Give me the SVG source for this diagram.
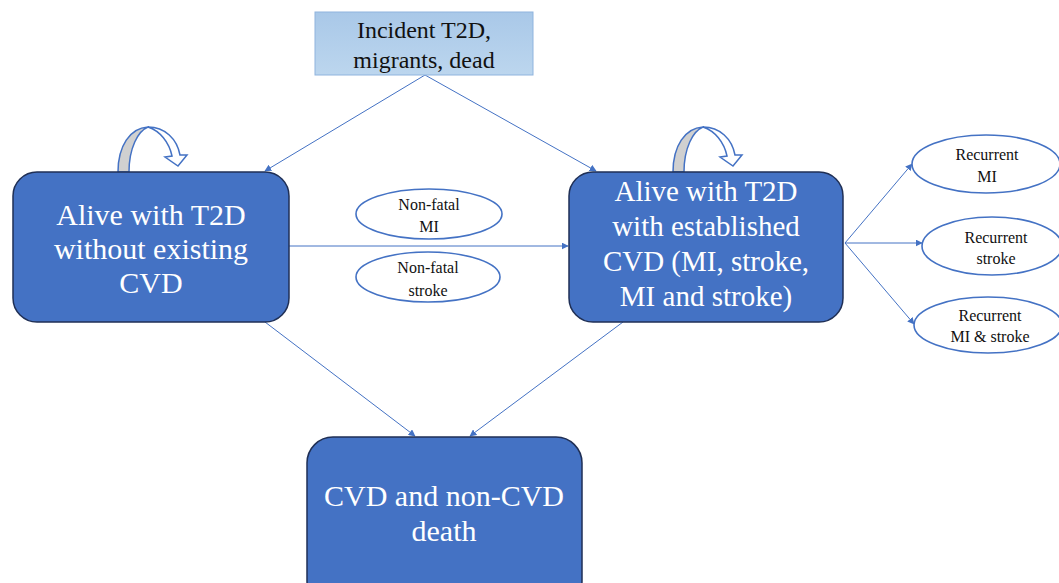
<svg xmlns="http://www.w3.org/2000/svg" width="1059" height="583" viewBox="0 0 1059 583">
<defs>
<linearGradient id="tg" x1="0" y1="0" x2="0" y2="1"><stop offset="0" stop-color="#a9c8e8"/><stop offset="1" stop-color="#bcd6ee"/></linearGradient>
<marker id="ah" viewBox="0 0 10 10" refX="9" refY="5" markerWidth="7" markerHeight="7" orient="auto" markerUnits="userSpaceOnUse"><path d="M0,0 L10,5 L0,10 z" fill="#4472c4"/></marker>
<style>
.box{fill:#4472c4;stroke:#1f2f55;stroke-width:1.5}
.ell{fill:#fff;stroke:#4472c4;stroke-width:1.6}
.con{stroke:#4472c4;stroke-width:1;fill:none;marker-end:url(#ah)}
.loopg{fill:#d0d0d0;stroke:#4472c4;stroke-width:1.5}
.loopw{fill:#fff;stroke:#4472c4;stroke-width:1.5}
text{font-family:'Times New Roman','Liberation Serif',serif;text-anchor:middle}
.wt{fill:#fff}
.bt{fill:#111}
</style>
</defs>
<rect width="1059" height="583" fill="#fff"/>
<g id="connectors">
<line class="con" x1="425" y1="75" x2="265" y2="171"/>
<line class="con" x1="425" y1="75" x2="596" y2="171"/>
<line class="con" x1="289" y1="246" x2="568" y2="246"/>
<line class="con" x1="265" y1="322" x2="415" y2="436"/>
<line class="con" x1="623" y1="322" x2="470" y2="436"/>
<line class="con" x1="845" y1="243" x2="912" y2="164"/>
<line class="con" x1="845" y1="243" x2="922" y2="243"/>
<line class="con" x1="845" y1="243" x2="914" y2="324"/>
</g>
<g id="loop-left">
<path class="loopg" d="M118,172 C118,146 130,128 148,127 C138,131 129,148 129,172 Z"/>
<path class="loopw" d="M148,127 C165,127 177,139 180,155 L187,155 L178,166 L165,157 L172,156 C169,142 160,131 148,127 Z"/>
</g>
<g id="loop-right" transform="translate(555,0)">
<path class="loopg" d="M118,172 C118,146 130,128 148,127 C138,131 129,148 129,172 Z"/>
<path class="loopw" d="M148,127 C165,127 177,139 180,155 L187,155 L178,166 L165,157 L172,156 C169,142 160,131 148,127 Z"/>
</g>
<g id="node-incident">
<rect x="315" y="12" width="218" height="63" fill="url(#tg)" stroke="#8fb4de" stroke-width="1"/>
<text class="bt" x="424" y="38" font-size="24">Incident T2D,</text>
<text class="bt" x="424" y="68" font-size="24">migrants, dead</text>
</g>
<g id="node-alive">
<rect class="box" x="13" y="172" width="276" height="150" rx="24"/>
<text class="wt" x="151" y="225" font-size="30">Alive with T2D</text>
<text class="wt" x="151" y="259" font-size="30">without existing</text>
<text class="wt" x="151" y="293" font-size="30">CVD</text>
</g>
<g id="node-established">
<rect class="box" x="569" y="172" width="274" height="150" rx="24"/>
<text class="wt" x="706" y="201" font-size="29">Alive with T2D</text>
<text class="wt" x="706" y="236" font-size="29">with established</text>
<text class="wt" x="706" y="271" font-size="29">CVD (MI, stroke,</text>
<text class="wt" x="706" y="306" font-size="29">MI and stroke)</text>
</g>
<g id="node-death">
<rect class="box" x="307" y="437" width="275" height="170" rx="26"/>
<text class="wt" x="444" y="506" font-size="30">CVD and non-CVD</text>
<text class="wt" x="444" y="541" font-size="30">death</text>
</g>
<g id="node-nfmi">
<ellipse class="ell" cx="429" cy="214" rx="73" ry="25"/>
<text class="bt" x="429" y="210" font-size="16">Non-fatal</text>
<text class="bt" x="429" y="232" font-size="16">MI</text>
</g>
<g id="node-nfstroke">
<ellipse class="ell" cx="428" cy="277" rx="72" ry="25"/>
<text class="bt" x="428" y="273" font-size="16">Non-fatal</text>
<text class="bt" x="428" y="296" font-size="16">stroke</text>
</g>
<g id="node-rmi">
<ellipse class="ell" cx="986" cy="164" rx="74" ry="29"/>
<text class="bt" x="987" y="160" font-size="16">Recurrent</text>
<text class="bt" x="987" y="182" font-size="16">MI</text>
</g>
<g id="node-rstroke">
<ellipse class="ell" cx="992" cy="246" rx="70" ry="29"/>
<text class="bt" x="996" y="243" font-size="16">Recurrent</text>
<text class="bt" x="996" y="264" font-size="16">stroke</text>
</g>
<g id="node-rmistroke">
<ellipse class="ell" cx="988" cy="325" rx="74" ry="28"/>
<text class="bt" x="990" y="321" font-size="16">Recurrent</text>
<text class="bt" x="990" y="342" font-size="16">MI &amp; stroke</text>
</g>
</svg>
